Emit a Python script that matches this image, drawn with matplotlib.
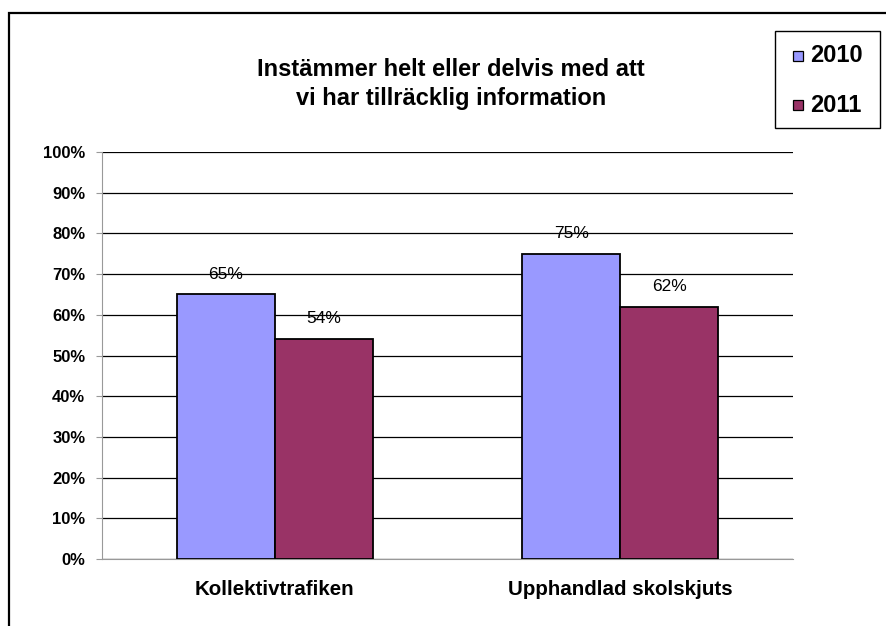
import matplotlib
matplotlib.use("Agg")
import matplotlib.pyplot as plt
from matplotlib.patches import Rectangle
import numpy as np

categories = ["Kollektivtrafiken", "Upphandlad skolskjuts"]
years = ["2010", "2011"]
values_2010 = [65, 75]
values_2011 = [54, 62]
yticks = list(range(0, 101, 10))
title = "Instämmer helt eller delvis med att\nvi har tillräcklig information"

colors = ["#9999FF", "#993366"]

plt.rcParams['font.family'] = ['Liberation Sans', 'DejaVu Sans']

W, H = 887, 626
fig = plt.figure(figsize=(W / 100, H / 100), dpi=100)


def fx(px):
    return px / W


def fy(py):
    return 1 - py / H


# outer border (right and bottom edges fall outside the image)
fig.patches.append(Rectangle((fx(9), fy(H + 10)), fx(W + 10 - 9), (H + 10 - 13) / H,
                             transform=fig.transFigure, fill=False, edgecolor="black",
                             linewidth=1.6))

ax = fig.add_axes([fx(102), fy(559), (793 - 102) / W, (559 - 152) / H])
x = np.arange(len(categories))
bw = 0.284
b1 = ax.bar(x - bw / 2, values_2010, bw, color=colors[0], edgecolor="black", linewidth=1.3, label=years[0], zorder=3)
b2 = ax.bar(x + bw / 2, values_2011, bw, color=colors[1], edgecolor="black", linewidth=1.3, label=years[1], zorder=3)

for bars, vals in ((b1, values_2010), (b2, values_2011)):
    for b, v in zip(bars, vals):
        ax.text(b.get_x() + b.get_width() / 2, v + 5.0, f"{v}%", ha="center", va="center",
                fontsize=12.5, zorder=4)

ax.set_xlim(-0.5, 1.5)
ax.set_ylim(0, 100)
ax.set_yticks(yticks)
ax.set_yticklabels([f"{t}%" for t in yticks], fontsize=12, fontweight="bold")
ax.set_xticks(x)
ax.set_xticklabels(categories, fontsize=14.8, fontweight="bold")
ax.tick_params(axis="x", length=0, pad=15)
ax.tick_params(axis="y", length=4, color="#999999", pad=8)
ax.yaxis.grid(True, color="black", linewidth=0.9, zorder=0)
ax.set_axisbelow(True)
for s in ["top", "right"]:
    ax.spines[s].set_visible(False)
ax.spines["left"].set_color("#999999")
ax.spines["bottom"].set_color("#999999")

fig.text(fx(451), fy(84), title, ha="center", va="center", fontsize=17,
         fontweight="bold", linespacing=1.35)

# legend (manual placement)
fig.patches.append(Rectangle((fx(775), fy(128)), (880 - 775) / W, (128 - 31) / H,
                             transform=fig.transFigure, facecolor="white",
                             edgecolor="black", linewidth=1.0))
for i, (lab, col) in enumerate(zip(years, colors)):
    yc = 56 + i * 49
    fig.patches.append(Rectangle((fx(793), fy(yc + 5)), 10 / W, 10 / H,
                                 transform=fig.transFigure, facecolor=col,
                                 edgecolor="black", linewidth=0.9))
    fig.text(fx(810), fy(yc), lab, ha="left", va="center", fontsize=17, fontweight="bold")

fig.savefig("out.png", dpi=100)
